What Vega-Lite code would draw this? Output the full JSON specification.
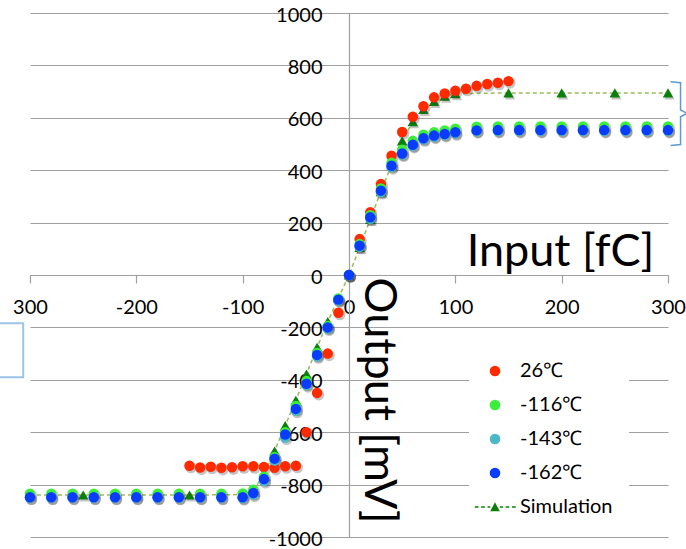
{
  "$schema": "https://vega.github.io/schema/vega-lite/v6.json",
  "width": 638,
  "height": 524,
  "autosize": {"type": "none"},
  "padding": {"left": 30, "top": 13, "right": 18, "bottom": 12},
  "background": "white",
  "config": {
    "font": "Lato",
    "view": {"stroke": null},
    "axis": {"labelFont": "Lato", "titleFont": "Lato", "labelColor": "#000000", "titleColor": "#000000"},
    "legend": {"labelFont": "Lato", "labelColor": "#000000"}
  },
  "datasets": {
    "sim": [
      {"x": -300, "y": -840}, {"x": -250, "y": -840}, {"x": -200, "y": -840}, {"x": -150, "y": -840},
      {"x": -100, "y": -838}, {"x": -90, "y": -822}, {"x": -80, "y": -760}, {"x": -70, "y": -672},
      {"x": -60, "y": -575}, {"x": -50, "y": -478}, {"x": -40, "y": -378}, {"x": -30, "y": -276},
      {"x": -20, "y": -178}, {"x": -10, "y": -88}, {"x": 0, "y": 0}, {"x": 10, "y": 105},
      {"x": 20, "y": 212}, {"x": 30, "y": 318}, {"x": 40, "y": 420}, {"x": 50, "y": 512},
      {"x": 60, "y": 585}, {"x": 70, "y": 632}, {"x": 80, "y": 662}, {"x": 90, "y": 682},
      {"x": 100, "y": 692}, {"x": 150, "y": 695}, {"x": 200, "y": 695}, {"x": 250, "y": 695}, {"x": 300, "y": 695}
    ],
    "pts": [
      {"s": "26℃", "x": -150, "y": -728}, {"s": "26℃", "x": -140, "y": -735}, {"s": "26℃", "x": -130, "y": -732}, {"s": "26℃", "x": -120, "y": -736},
      {"s": "26℃", "x": -110, "y": -734}, {"s": "26℃", "x": -100, "y": -730}, {"s": "26℃", "x": -90, "y": -730}, {"s": "26℃", "x": -80, "y": -733},
      {"s": "26℃", "x": -70, "y": -736}, {"s": "26℃", "x": -60, "y": -730}, {"s": "26℃", "x": -50, "y": -728}, {"s": "26℃", "x": -40, "y": -600},
      {"s": "26℃", "x": -30, "y": -450}, {"s": "26℃", "x": -20, "y": -300}, {"s": "26℃", "x": -10, "y": -144}, {"s": "26℃", "x": 0, "y": 0},
      {"s": "26℃", "x": 10, "y": 137}, {"s": "26℃", "x": 20, "y": 240}, {"s": "26℃", "x": 30, "y": 347}, {"s": "26℃", "x": 40, "y": 455},
      {"s": "26℃", "x": 50, "y": 546}, {"s": "26℃", "x": 60, "y": 604}, {"s": "26℃", "x": 70, "y": 644}, {"s": "26℃", "x": 80, "y": 678},
      {"s": "26℃", "x": 90, "y": 693}, {"s": "26℃", "x": 100, "y": 703}, {"s": "26℃", "x": 110, "y": 711}, {"s": "26℃", "x": 120, "y": 722},
      {"s": "26℃", "x": 130, "y": 729}, {"s": "26℃", "x": 140, "y": 734}, {"s": "26℃", "x": 150, "y": 740},

      {"s": "-116℃", "x": -300, "y": -835}, {"s": "-116℃", "x": -280, "y": -835}, {"s": "-116℃", "x": -260, "y": -835}, {"s": "-116℃", "x": -240, "y": -835},
      {"s": "-116℃", "x": -220, "y": -835}, {"s": "-116℃", "x": -200, "y": -835}, {"s": "-116℃", "x": -180, "y": -835}, {"s": "-116℃", "x": -160, "y": -835},
      {"s": "-116℃", "x": -140, "y": -835}, {"s": "-116℃", "x": -120, "y": -835}, {"s": "-116℃", "x": -100, "y": -834}, {"s": "-116℃", "x": -90, "y": -820},
      {"s": "-116℃", "x": -80, "y": -770}, {"s": "-116℃", "x": -70, "y": -695}, {"s": "-116℃", "x": -60, "y": -600}, {"s": "-116℃", "x": -50, "y": -500},
      {"s": "-116℃", "x": -40, "y": -405}, {"s": "-116℃", "x": -30, "y": -298}, {"s": "-116℃", "x": -20, "y": -195}, {"s": "-116℃", "x": -10, "y": -90},
      {"s": "-116℃", "x": 0, "y": 0}, {"s": "-116℃", "x": 10, "y": 118}, {"s": "-116℃", "x": 20, "y": 228}, {"s": "-116℃", "x": 30, "y": 330},
      {"s": "-116℃", "x": 40, "y": 428}, {"s": "-116℃", "x": 50, "y": 478}, {"s": "-116℃", "x": 60, "y": 512}, {"s": "-116℃", "x": 70, "y": 535},
      {"s": "-116℃", "x": 80, "y": 545}, {"s": "-116℃", "x": 90, "y": 552}, {"s": "-116℃", "x": 100, "y": 558}, {"s": "-116℃", "x": 120, "y": 566},
      {"s": "-116℃", "x": 140, "y": 567}, {"s": "-116℃", "x": 160, "y": 567}, {"s": "-116℃", "x": 180, "y": 567}, {"s": "-116℃", "x": 200, "y": 567},
      {"s": "-116℃", "x": 220, "y": 567}, {"s": "-116℃", "x": 240, "y": 567}, {"s": "-116℃", "x": 260, "y": 567}, {"s": "-116℃", "x": 280, "y": 567},
      {"s": "-116℃", "x": 300, "y": 567},

      {"s": "-143℃", "x": -300, "y": -850}, {"s": "-143℃", "x": -280, "y": -850}, {"s": "-143℃", "x": -260, "y": -850}, {"s": "-143℃", "x": -240, "y": -850},
      {"s": "-143℃", "x": -220, "y": -850}, {"s": "-143℃", "x": -200, "y": -850}, {"s": "-143℃", "x": -180, "y": -850}, {"s": "-143℃", "x": -160, "y": -850},
      {"s": "-143℃", "x": -140, "y": -850}, {"s": "-143℃", "x": -120, "y": -850}, {"s": "-143℃", "x": -100, "y": -851}, {"s": "-143℃", "x": -90, "y": -838},
      {"s": "-143℃", "x": -80, "y": -786}, {"s": "-143℃", "x": -70, "y": -708}, {"s": "-143℃", "x": -60, "y": -620}, {"s": "-143℃", "x": -50, "y": -518},
      {"s": "-143℃", "x": -40, "y": -420}, {"s": "-143℃", "x": -30, "y": -310}, {"s": "-143℃", "x": -20, "y": -204}, {"s": "-143℃", "x": -10, "y": -97},
      {"s": "-143℃", "x": 0, "y": 0}, {"s": "-143℃", "x": 10, "y": 108}, {"s": "-143℃", "x": 20, "y": 215}, {"s": "-143℃", "x": 30, "y": 317},
      {"s": "-143℃", "x": 40, "y": 412}, {"s": "-143℃", "x": 50, "y": 460}, {"s": "-143℃", "x": 60, "y": 493}, {"s": "-143℃", "x": 70, "y": 518},
      {"s": "-143℃", "x": 80, "y": 528}, {"s": "-143℃", "x": 90, "y": 535}, {"s": "-143℃", "x": 100, "y": 541}, {"s": "-143℃", "x": 120, "y": 549},
      {"s": "-143℃", "x": 140, "y": 550}, {"s": "-143℃", "x": 160, "y": 550}, {"s": "-143℃", "x": 180, "y": 550}, {"s": "-143℃", "x": 200, "y": 550},
      {"s": "-143℃", "x": 220, "y": 550}, {"s": "-143℃", "x": 240, "y": 550}, {"s": "-143℃", "x": 260, "y": 550}, {"s": "-143℃", "x": 280, "y": 550},
      {"s": "-143℃", "x": 300, "y": 550},

      {"s": "-162℃", "x": -300, "y": -848}, {"s": "-162℃", "x": -280, "y": -848}, {"s": "-162℃", "x": -260, "y": -848}, {"s": "-162℃", "x": -240, "y": -848},
      {"s": "-162℃", "x": -220, "y": -848}, {"s": "-162℃", "x": -200, "y": -848}, {"s": "-162℃", "x": -180, "y": -848}, {"s": "-162℃", "x": -160, "y": -848},
      {"s": "-162℃", "x": -140, "y": -848}, {"s": "-162℃", "x": -120, "y": -848}, {"s": "-162℃", "x": -100, "y": -848}, {"s": "-162℃", "x": -90, "y": -832},
      {"s": "-162℃", "x": -80, "y": -779}, {"s": "-162℃", "x": -70, "y": -701}, {"s": "-162℃", "x": -60, "y": -609}, {"s": "-162℃", "x": -50, "y": -511},
      {"s": "-162℃", "x": -40, "y": -415}, {"s": "-162℃", "x": -30, "y": -305}, {"s": "-162℃", "x": -20, "y": -200}, {"s": "-162℃", "x": -10, "y": -94},
      {"s": "-162℃", "x": 0, "y": 0}, {"s": "-162℃", "x": 10, "y": 112}, {"s": "-162℃", "x": 20, "y": 220}, {"s": "-162℃", "x": 30, "y": 322},
      {"s": "-162℃", "x": 40, "y": 417}, {"s": "-162℃", "x": 50, "y": 464}, {"s": "-162℃", "x": 60, "y": 497}, {"s": "-162℃", "x": 70, "y": 522},
      {"s": "-162℃", "x": 80, "y": 532}, {"s": "-162℃", "x": 90, "y": 538}, {"s": "-162℃", "x": 100, "y": 545}, {"s": "-162℃", "x": 120, "y": 552},
      {"s": "-162℃", "x": 140, "y": 553}, {"s": "-162℃", "x": 160, "y": 553}, {"s": "-162℃", "x": 180, "y": 553}, {"s": "-162℃", "x": 200, "y": 553},
      {"s": "-162℃", "x": 220, "y": 553}, {"s": "-162℃", "x": 240, "y": 553}, {"s": "-162℃", "x": 260, "y": 553}, {"s": "-162℃", "x": 280, "y": 553},
      {"s": "-162℃", "x": 300, "y": 553}
    ],
    "ann": [
      {"g": "brace", "k": 0, "x": 302.4, "y": 738}, {"g": "brace", "k": 1, "x": 311.8, "y": 734},
      {"g": "brace", "k": 2, "x": 311.8, "y": 630}, {"g": "brace", "k": 3, "x": 318, "y": 617},
      {"g": "brace", "k": 4, "x": 311.8, "y": 604}, {"g": "brace", "k": 5, "x": 311.8, "y": 498},
      {"g": "brace", "k": 6, "x": 302.4, "y": 494},
      {"g": "box", "k": 0, "x": -335, "y": -184}, {"g": "box", "k": 1, "x": -306.4, "y": -184},
      {"g": "box", "k": 2, "x": -306.4, "y": -390}, {"g": "box", "k": 3, "x": -335, "y": -390}
    ]
  },
  "layer": [
    {
      "data": {"name": "sim"},
      "mark": {"type": "line", "color": "#9bbb59", "strokeWidth": 1.5, "strokeDash": [4, 3]},
      "encoding": {
        "x": {
          "field": "x", "type": "quantitative",
          "scale": {"domain": [-300, 300], "nice": false, "zero": false},
          "axis": {
            "orient": "bottom", "offset": -262,
            "values": [-300, -200, -100, 0, 100, 200, 300],
            "grid": false,
            "domainColor": "#a0a0a0", "domainWidth": 1.2,
            "tickColor": "#a0a0a0", "tickSize": 8, "tickWidth": 1.2,
            "labelFontSize": 20, "labelPadding": 14,
            "labelFlush": false, "labelOverlap": false,
            "labelExpr": "datum.value == -300 ? '300' : '' + datum.value",
            "title": "Input [fC]", "titleFontSize": 45, "titleFontWeight": "normal",
            "titleX": 530, "titleY": -10, "titleAlign": "center", "titleBaseline": "alphabetic"
          }
        },
        "y": {
          "field": "y", "type": "quantitative",
          "scale": {"domain": [-1000, 1000], "nice": false, "zero": false},
          "axis": {
            "orient": "left", "offset": -319,
            "values": [-1000, -800, -600, -400, -200, 0, 200, 400, 600, 800, 1000],
            "grid": true, "gridColor": "#a0a0a0", "gridWidth": 1.2,
            "domainColor": "#a0a0a0", "domainWidth": 1.2,
            "ticks": false,
            "labelFontSize": 20, "labelPadding": 27, "labelBaseline": "middle", "labelOffset": 2,
            "labelFlush": false, "labelOverlap": false,
            "labelExpr": "'' + datum.value",
            "title": "Output [mV]", "titleFontSize": 45, "titleFontWeight": "normal",
            "titleAngle": 90, "titleX": 15, "titleY": 264, "titleAlign": "left", "titleBaseline": "alphabetic"
          }
        }
      }
    },
    {
      "data": {"name": "sim"},
      "mark": {"type": "point", "filled": true, "size": 110, "opacity": 0.3, "color": "#404040", "shape": "triangle-up"},
      "encoding": {
        "x": {"field": "x", "type": "quantitative"},
        "y": {"field": "y", "type": "quantitative"},
        "xOffset": {"value": 1.5},
        "yOffset": {"value": 2}
      }
    },
    {
      "data": {"name": "sim"},
      "mark": {"type": "point", "filled": true, "size": 110, "opacity": 1, "color": "#0a7f0a", "shape": "triangle-up"},
      "encoding": {
        "x": {"field": "x", "type": "quantitative"},
        "y": {"field": "y", "type": "quantitative"}
      }
    },
    {
      "data": {"name": "pts"},
      "mark": {"type": "point", "filled": true, "size": 125, "opacity": 0.3, "color": "#404040", "shape": "circle"},
      "encoding": {
        "x": {"field": "x", "type": "quantitative"},
        "y": {"field": "y", "type": "quantitative"},
        "xOffset": {"value": 1.5},
        "yOffset": {"value": 2}
      }
    },
    {
      "data": {"name": "pts"},
      "mark": {"type": "point", "filled": true, "size": 110, "opacity": 1},
      "encoding": {
        "x": {"field": "x", "type": "quantitative"},
        "y": {"field": "y", "type": "quantitative"},
        "color": {
          "field": "s", "type": "nominal",
          "scale": {
            "domain": ["26℃", "-116℃", "-143℃", "-162℃", "Simulation"],
            "range": ["#ff2a00", "#3cee3c", "#4bb8c9", "#0a3cff", "#0a7f0a"]
          },
          "legend": {
            "orient": "none", "legendX": 439, "legendY": 332,
            "title": null, "fillColor": "white", "padding": 16,
            "labelFontSize": 20, "rowPadding": 14, "labelOffset": 15,
            "symbolSize": 113
          }
        },
        "shape": {
          "field": "s", "type": "nominal",
          "scale": {
            "domain": ["26℃", "-116℃", "-143℃", "-162℃", "Simulation"],
            "range": ["circle", "circle", "circle", "circle", "M-3.8,-0.14H-3.1V0.14H-3.8ZM-2.6,-0.14H-1.9V0.14H-2.6ZM-1.4,-0.14H-0.9V0.14H-1.4ZM0.9,-0.14H1.5V0.14H0.9ZM2.0,-0.14H2.7V0.14H2.0ZM3.2,-0.14H3.9V0.14H3.2ZM-0.9,0.8L0,-0.9L0.9,0.8Z"]
          },
          "legend": null
        }
      }
    },
    {
      "data": {"name": "ann"},
      "transform": [{"filter": "datum.g === 'brace'"}],
      "mark": {"type": "line", "color": "#5b9bd5", "strokeWidth": 1.5, "clip": false},
      "encoding": {
        "x": {"field": "x", "type": "quantitative"},
        "y": {"field": "y", "type": "quantitative"},
        "order": {"field": "k"}
      }
    },
    {
      "data": {"name": "ann"},
      "transform": [{"filter": "datum.g === 'box'"}],
      "mark": {"type": "line", "color": "#9dc3e6", "strokeWidth": 2, "clip": false},
      "encoding": {
        "x": {"field": "x", "type": "quantitative"},
        "y": {"field": "y", "type": "quantitative"},
        "order": {"field": "k"}
      }
    }
  ]
}
